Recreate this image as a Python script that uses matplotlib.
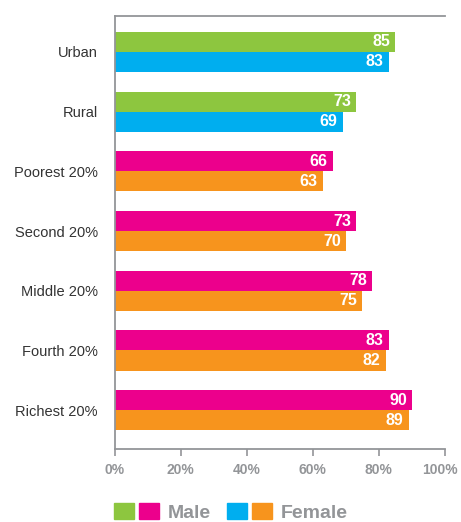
import matplotlib
matplotlib.use("Agg")
import matplotlib.pyplot as plt
import matplotlib.transforms as mtransforms
import numpy as np
from matplotlib.patches import Patch
from matplotlib.legend_handler import HandlerTuple

categories = ["Urban", "Rural", "Poorest 20%", "Second 20%", "Middle 20%", "Fourth 20%", "Richest 20%"]
male = [85, 73, 66, 73, 78, 83, 90]
female = [83, 69, 63, 70, 75, 82, 89]
# first two groups (residence) use green/blue, wealth quintiles use magenta/orange
male_colors = ["#8DC63F", "#8DC63F", "#EC008C", "#EC008C", "#EC008C", "#EC008C", "#EC008C"]
female_colors = ["#00AEEF", "#00AEEF", "#F7941D", "#F7941D", "#F7941D", "#F7941D", "#F7941D"]
xticks = [0, 20, 40, 60, 80, 100]

plt.rcParams["font.family"] = ["Liberation Sans", "DejaVu Sans"]

GRAY = "#939598"

fig = plt.figure(figsize=(4.61, 5.22), dpi=100)
ax = fig.add_axes([0.2484, 0.1398, 0.7169, 0.8305])

y = np.arange(len(categories))
h = 0.335
ax.barh(y - h / 2, male, height=h, color=male_colors)
ax.barh(y + h / 2, female, height=h, color=female_colors)

for yi, m, f in zip(y, male, female):
    ax.text(m - 1.5, yi - h / 2, str(m), ha="right", va="center",
            color="white", fontsize=11.5, fontweight="bold")
    ax.text(f - 1.5, yi + h / 2, str(f), ha="right", va="center",
            color="white", fontsize=11.5, fontweight="bold")

ax.set_ylim(len(categories) - 1 + 0.65, -0.61)
ax.set_xlim(0, 100)
ax.set_yticks(y)
ax.set_yticklabels(categories, fontsize=10.5, color="#333333")
ax.tick_params(axis="y", length=0, pad=12)
ax.set_xticks(xticks)
ax.set_xticklabels([f"{t}%" for t in xticks], fontsize=10, color=GRAY, fontweight="bold")
ax.tick_params(axis="x", length=5, width=1.2, color=GRAY, pad=5)
# nudge "100%" a little left so it stays inside the canvas
last = ax.get_xticklabels()[-1]
last.set_transform(last.get_transform() +
                   mtransforms.ScaledTranslation(-5 / 100, 0, fig.dpi_scale_trans))

for s in ["top", "left", "bottom"]:
    ax.spines[s].set_color(GRAY)
    ax.spines[s].set_linewidth(1.3)
ax.spines["right"].set_visible(False)

handles = [(Patch(color="#8DC63F"), Patch(color="#EC008C")),
           (Patch(color="#00AEEF"), Patch(color="#F7941D"))]
fig.legend(handles, ["Male", "Female"],
           handler_map={tuple: HandlerTuple(ndivide=None, pad=0.27)},
           loc="lower left", bbox_to_anchor=(114 / 461, 0.0), ncol=2, frameon=False,
           borderpad=0, borderaxespad=0,
           prop={"weight": "bold", "size": 14},
           labelcolor=GRAY, handlelength=2.3, handleheight=0.87,
           handletextpad=0.45, columnspacing=0.85)

fig.savefig("out.png", dpi=100)
